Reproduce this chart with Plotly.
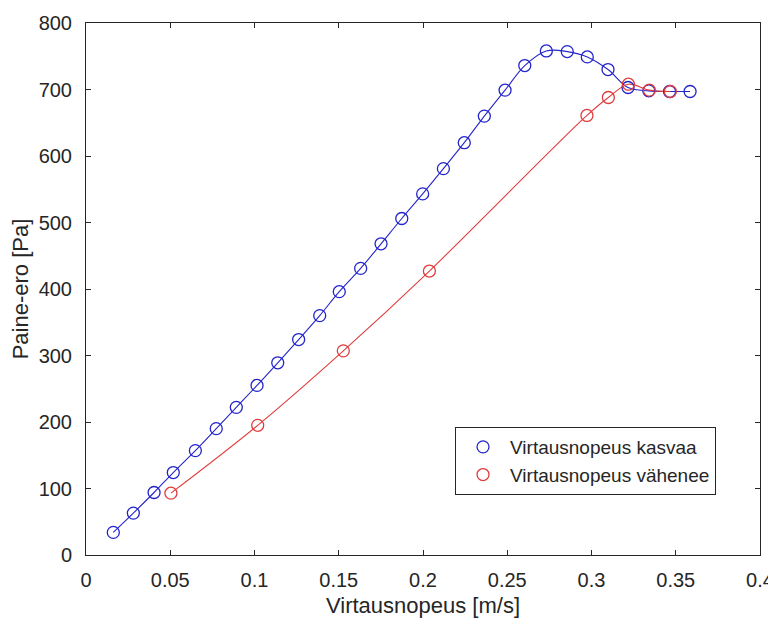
import plotly.graph_objects as go

# Data
x_kasvaa = [0.0162, 0.0281, 0.0404, 0.0518, 0.0649, 0.0773, 0.0892, 0.1015, 0.1138,
            0.1262, 0.1387, 0.1503, 0.1630, 0.1751, 0.1874, 0.1998, 0.2121, 0.2245,
            0.2364, 0.2487, 0.2604, 0.2732, 0.2856, 0.2975, 0.3098, 0.3217, 0.3340,
            0.3463, 0.3585]
y_kasvaa = [34, 63, 94, 124, 157, 190, 222, 255, 289, 324, 360, 396, 431, 468, 506,
            543, 581, 620, 660, 699, 736, 758, 757, 749, 730, 703, 698, 697, 697]

x_vahenee = [0.0504, 0.1019, 0.1527, 0.2038, 0.2973, 0.3100, 0.3219, 0.3343, 0.3468]
y_vahenee = [93, 195, 307, 427, 661, 688, 708, 699, 697]

x_tickvals = [0, 0.05, 0.1, 0.15, 0.2, 0.25, 0.3, 0.35, 0.4]
x_ticktext = ["0", "0.05", "0.1", "0.15", "0.2", "0.25", "0.3", "0.35", "0.4"]
y_tickvals = [0, 100, 200, 300, 400, 500, 600, 700, 800]

name_kasvaa = "Virtausnopeus kasvaa"
name_vahenee = "Virtausnopeus vähenee"

BLUE = "#2424cc"
RED = "#e03c3c"
TXT = "#262626"
FONT = "Liberation Sans, Arial, sans-serif"

fig = go.Figure()
fig.add_trace(go.Scatter(x=x_kasvaa, y=y_kasvaa, mode="lines",
                         line=dict(color=BLUE, width=1.1, shape="spline", smoothing=1),
                         showlegend=False, hoverinfo="skip"))
fig.add_trace(go.Scatter(x=x_vahenee, y=y_vahenee, mode="lines",
                         line=dict(color=RED, width=1.1, shape="spline", smoothing=1),
                         showlegend=False, hoverinfo="skip"))
fig.add_trace(go.Scatter(x=x_kasvaa, y=y_kasvaa, mode="markers", name=name_kasvaa,
                         marker=dict(symbol="circle-open", size=12, color=BLUE,
                                     line=dict(width=1.3, color=BLUE))))
fig.add_trace(go.Scatter(x=x_vahenee, y=y_vahenee, mode="markers", name=name_vahenee,
                         marker=dict(symbol="circle-open", size=12, color=RED,
                                     line=dict(width=1.3, color=RED))))

axis_common = dict(showgrid=False, zeroline=False, showline=True, linecolor=TXT,
                   linewidth=1, mirror="ticks", ticks="inside", ticklen=5,
                   tickcolor=TXT, tickwidth=1, automargin=False,
                   tickfont=dict(family=FONT, size=20, color=TXT))

fig.update_xaxes(range=[0, 0.4], tickvals=x_tickvals, ticktext=x_ticktext,
                 title=dict(text="Virtausnopeus [m/s]", font=dict(family=FONT, size=22, color=TXT),
                            standoff=17),
                 ticklabelstandoff=7, **axis_common)
fig.update_yaxes(range=[0, 800], tickvals=y_tickvals,
                 title=dict(text="Paine-ero [Pa]", font=dict(family=FONT, size=22, color=TXT),
                            standoff=18),
                 ticklabelstandoff=9, **axis_common)

# page body has an 8px margin, so the figure is shrunk by 8px to fit the window
fig.update_layout(
    width=768, height=610,
    margin=dict(l=78, r=16, t=15, b=63),
    paper_bgcolor="white", plot_bgcolor="white",
    font=dict(family=FONT, color=TXT),
    legend=dict(x=0.5475, y=0.2406, xanchor="left", yanchor="top",
                bgcolor="white", bordercolor=TXT, borderwidth=1,
                font=dict(family=FONT, size=19, color=TXT),
                itemwidth=44, tracegroupgap=0),
)

fig.write_html("out.html")
